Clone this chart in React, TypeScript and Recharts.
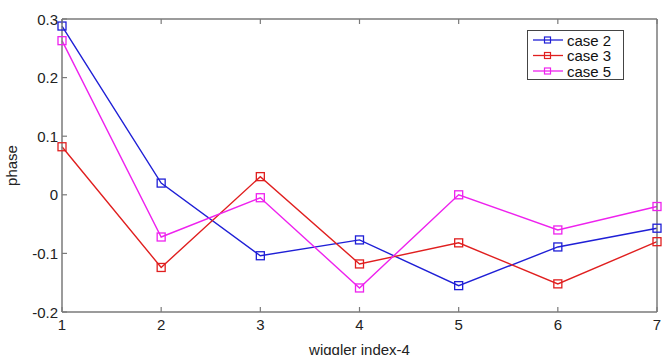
import { Line, LineChart, XAxis, YAxis } from "recharts";

const wiggler = [1, 2, 3, 4, 5, 6, 7];
const case2 = [0.288, 0.02, -0.104, -0.077, -0.155, -0.089, -0.057];
const case3 = [0.082, -0.124, 0.031, -0.118, -0.082, -0.152, -0.08];
const case5 = [0.263, -0.072, -0.005, -0.159, 0.0, -0.06, -0.02];
const yTicks = [-0.2, -0.1, 0, 0.1, 0.2, 0.3];

const series = [
  { key: "case2", name: "case 2", color: "#1f1fd6" },
  { key: "case3", name: "case 3", color: "#e01f1f" },
  { key: "case5", name: "case 5", color: "#ee22ee" },
];

const data = wiggler.map((w, i) => ({
  w,
  case2: case2[i],
  case3: case3[i],
  case5: case5[i],
}));

const AXIS = "#7a7a7a";
const FONT = "'Liberation Sans', Arial, sans-serif";
const TICK_LEN = 5;

function fmtY(v: number) {
  if (v === 0) return "0";
  return v.toFixed(1);
}

function LeftTick({ x, y, payload }: any) {
  // tickMargin 4, tickSize 0 -> axis line is at x + 4
  const ax = x + 4;
  return (
    <g>
      <line x1={ax} x2={ax + TICK_LEN} y1={y} y2={y} stroke={AXIS} strokeWidth={1.2} />
      <text x={x} y={y} textAnchor="end" dominantBaseline="central" fontSize={15} fill="#222" fontFamily={FONT}>
        {fmtY(payload.value)}
      </text>
    </g>
  );
}

function BottomTick({ x, y, payload }: any) {
  const ay = y - 4;
  return (
    <g>
      <line x1={x} x2={x} y1={ay} y2={ay - TICK_LEN} stroke={AXIS} strokeWidth={1.2} />
      <text x={x} y={y + 3} textAnchor="middle" dominantBaseline="hanging" fontSize={15} fill="#222" fontFamily={FONT}>
        {payload.value}
      </text>
    </g>
  );
}

function TopTick({ x, y }: any) {
  return <line x1={x} x2={x} y1={y} y2={y + TICK_LEN} stroke={AXIS} strokeWidth={1.2} />;
}

function RightTick({ x, y }: any) {
  return <line x1={x} x2={x - TICK_LEN} y1={y} y2={y} stroke={AXIS} strokeWidth={1.2} />;
}

function SquareDot({ cx, cy, stroke }: any) {
  if (cx == null || cy == null) return null;
  return <rect x={cx - 4} y={cy - 4} width={8} height={8} fill="none" stroke={stroke} strokeWidth={1.3} />;
}

function LegendBox() {
  return (
    <svg width={97} height={50} style={{ display: "block" }}>
      <rect x={0.5} y={0.5} width={96} height={49} fill="#fff" stroke="#444" strokeWidth={1} />
      {series.map((s, i) => {
        const cy = 10 + i * 15.5;
        return (
          <g key={s.key}>
            <line x1={6} x2={36} y1={cy} y2={cy} stroke={s.color} strokeWidth={1.3} />
            <rect x={17.5} y={cy - 3} width={6} height={6} fill="none" stroke={s.color} strokeWidth={1.2} />
            <text x={40} y={cy} dominantBaseline="central" fontSize={15} fill="#111" fontFamily={FONT}>
              {s.name}
            </text>
          </g>
        );
      })}
    </svg>
  );
}

export default function App() {
  return (
    <div style={{ position: "absolute", left: 0, top: 0, width: 664, height: 355, background: "#fff" }}>
      <LineChart width={664} height={355} data={data} margin={{ top: 18, right: 6, bottom: 0, left: 0 }}>
        <XAxis
          xAxisId="bottom"
          dataKey="w"
          type="number"
          domain={[1, 7]}
          ticks={wiggler}
          tickSize={0}
          tickMargin={4}
          tick={<BottomTick />}
          axisLine={{ stroke: AXIS, strokeWidth: 1.5 }}
          height={43}
          label={{ value: "wiggler index-4", position: "insideBottom", offset: 0, fontSize: 15, fill: "#222", fontFamily: FONT }}
        />
        <XAxis
          xAxisId="top"
          orientation="top"
          dataKey="w"
          type="number"
          domain={[1, 7]}
          ticks={wiggler}
          tickSize={0}
          tickMargin={0}
          tick={<TopTick />}
          axisLine={{ stroke: AXIS, strokeWidth: 1.5 }}
          height={1}
        />
        <YAxis
          yAxisId="left"
          type="number"
          domain={[-0.2, 0.3]}
          ticks={yTicks}
          tickSize={0}
          tickMargin={4}
          tick={<LeftTick />}
          axisLine={{ stroke: AXIS, strokeWidth: 1.5 }}
          width={62}
          label={{ value: "phase", angle: -90, position: "insideLeft", offset: 12, fontSize: 15, fill: "#222", fontFamily: FONT, style: { textAnchor: "middle" } }}
        />
        <YAxis
          yAxisId="right"
          orientation="right"
          type="number"
          domain={[-0.2, 0.3]}
          ticks={yTicks}
          tickSize={0}
          tickMargin={0}
          tick={<RightTick />}
          axisLine={{ stroke: AXIS, strokeWidth: 1.5 }}
          width={1}
        />
        {series.map((s) => (
          <Line
            key={s.key}
            xAxisId="bottom"
            yAxisId="left"
            type="linear"
            dataKey={s.key}
            name={s.name}
            stroke={s.color}
            strokeWidth={1.4}
            dot={<SquareDot stroke={s.color} />}
            activeDot={false}
            isAnimationActive={false}
          />
        ))}
      </LineChart>
      <div style={{ position: "absolute", left: 527, top: 30 }}>
        <LegendBox />
      </div>
    </div>
  );
}
